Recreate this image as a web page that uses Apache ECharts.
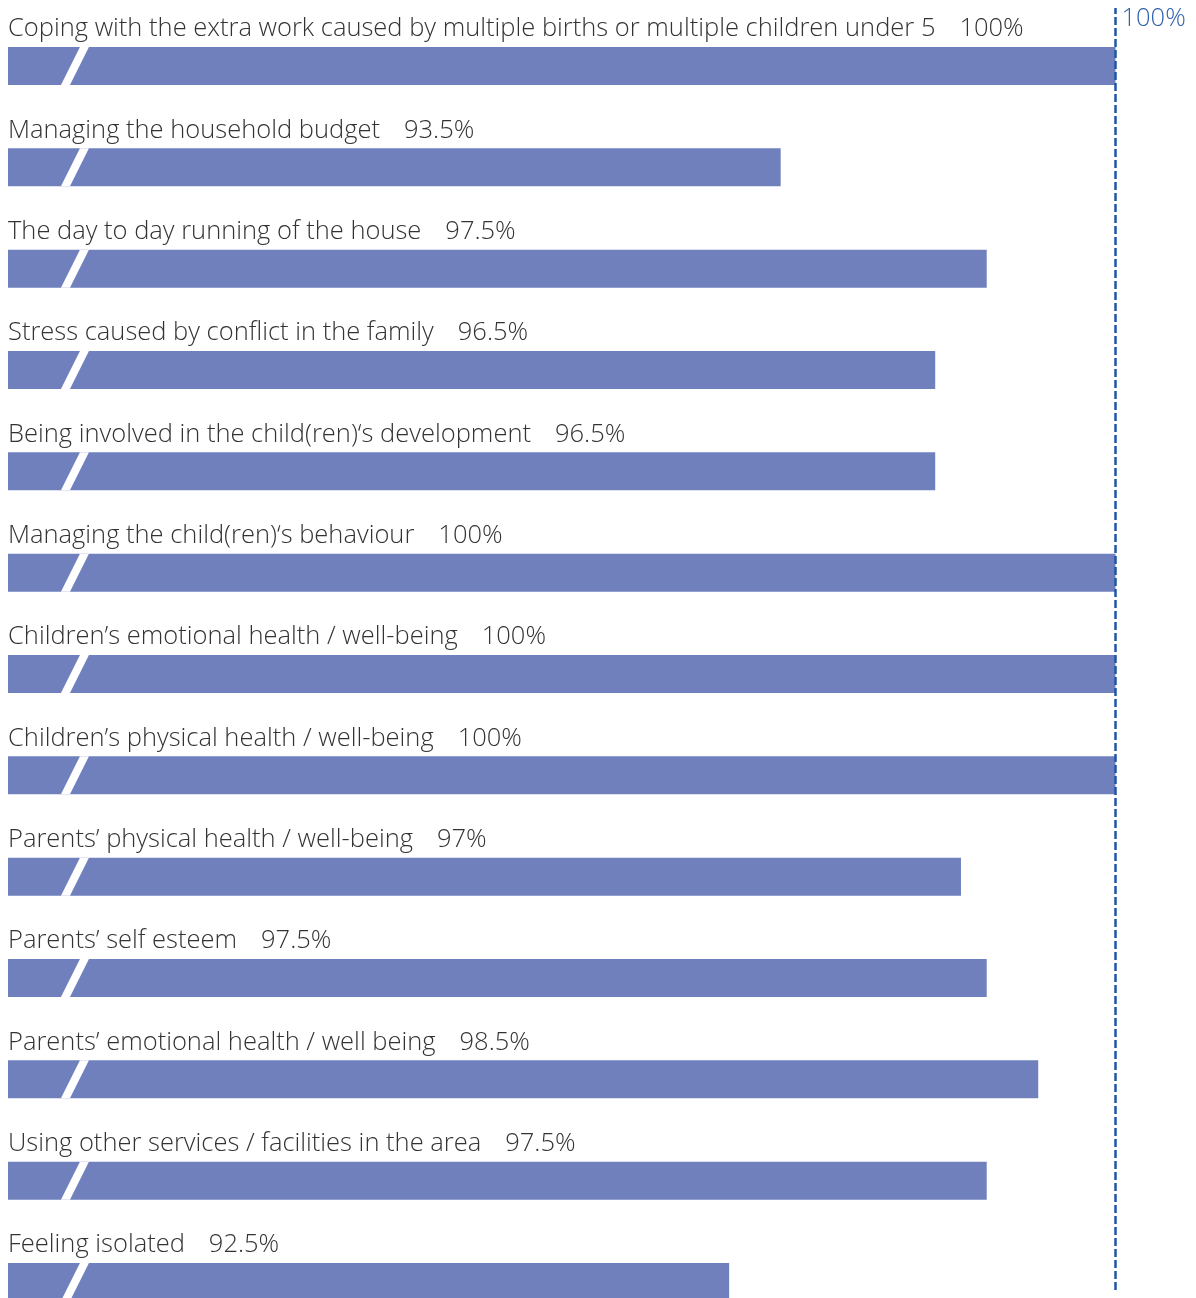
<!DOCTYPE html>
<html><head><meta charset="utf-8">
<script src="https://cdn.jsdelivr.net/npm/echarts@6/dist/echarts.min.js"></script>
<style>html,body{margin:0;padding:0;overflow:hidden;background:#fff}#c{width:1196px;height:1298px}</style>
</head><body><div id="c"></div>
<script>
const categories = [
  'Coping with the extra work caused by multiple births or multiple children under 5',
  'Managing the household budget',
  'The day to day running of the house',
  'Stress caused by conflict in the family',
  'Being involved in the child(ren)\u2018s development',
  'Managing the child(ren)\u2018s behaviour',
  'Children\u2019s emotional health / well-being',
  'Children\u2019s physical health / well-being',
  'Parents\u2019 physical health / well-being',
  'Parents\u2019 self esteem',
  'Parents\u2019 emotional health / well being',
  'Using other services / facilities in the area',
  'Feeling isolated'
];
const values = [100, 93.5, 97.5, 96.5, 96.5, 100, 100, 100, 97, 97.5, 98.5, 97.5, 92.5];
const axisMin = 78.5;
const axisMax = 100;
const referenceValue = 100;
const breakValue = 79.8;

const FONT = 'Open Sans';
const FS = 25.5;
const BAR_H = 38;
const txt = {fontFamily: FONT, fontWeight: 300, fontSize: FS, color: '#333333'};

const chart = echarts.init(document.getElementById('c'), null, {renderer: 'canvas'});
chart.setOption({
  animation: false,
  backgroundColor: '#fff',
  grid: [
    {left: 8, right: 80.5, top: 15.33, height: 1317.33, containLabel: false, outerBoundsMode: 'none'},
    {left: 8, right: 80.5, top: 8, bottom: 8, containLabel: false, outerBoundsMode: 'none'}
  ],
  xAxis: [
    {gridIndex: 0, type: 'value', min: axisMin, max: axisMax, show: false},
    {gridIndex: 1, type: 'value', min: axisMin, max: axisMax, show: false}
  ],
  yAxis: [
    {gridIndex: 0, type: 'category', data: categories, inverse: true, show: false},
    {gridIndex: 1, type: 'value', min: 0, max: 1, show: false}
  ],
  series: [
    {
      type: 'bar',
      xAxisIndex: 0, yAxisIndex: 0,
      data: values,
      barWidth: BAR_H,
      clip: true,
      itemStyle: {color: '#6f80bd'},
      label: Object.assign({
        show: true,
        position: [0, -5],
        align: 'left',
        verticalAlign: 'bottom',
        formatter: p => '{n|' + p.name + '}{v|' + p.value + '%}',
        rich: {
          n: Object.assign({}, txt),
          v: Object.assign({padding: [0, 0, 0, 24]}, txt)
        }
      }, txt),
      silent: true
    },
    {
      type: 'custom',
      xAxisIndex: 0, yAxisIndex: 0,
      data: values.map((v, i) => [breakValue, i]),
      encode: {x: 0, y: 1},
      silent: true,
      z: 5,
      renderItem: function (params, api) {
        const c = api.coord([api.value(0), api.value(1)]);
        const half = BAR_H / 2;
        const slant = 9.5, w = 4.5;
        return {
          type: 'polygon',
          shape: {points: [
            [c[0] + slant - w, c[1] - half],
            [c[0] + slant + w, c[1] - half],
            [c[0] - slant + w, c[1] + half],
            [c[0] - slant - w, c[1] + half]
          ]},
          style: {fill: '#ffffff'}
        };
      }
    },
    {
      type: 'line',
      xAxisIndex: 1, yAxisIndex: 1,
      data: [],
      silent: true,
      markLine: {
        silent: true,
        symbol: 'none',
        animation: false,
        data: [{xAxis: referenceValue}],
        lineStyle: {color: '#1f55a6', type: [8, 3], width: 2.5},
        label: {
          show: true,
          position: 'end',
          align: 'left',
          verticalAlign: 'top',
          distance: 2,
          padding: [0, 0, 0, 6],
          formatter: referenceValue + '%',
          fontFamily: FONT,
          fontWeight: 300,
          fontSize: FS,
          color: '#2e62ad'
        }
      }
    }
  ]
});
</script></body></html>
